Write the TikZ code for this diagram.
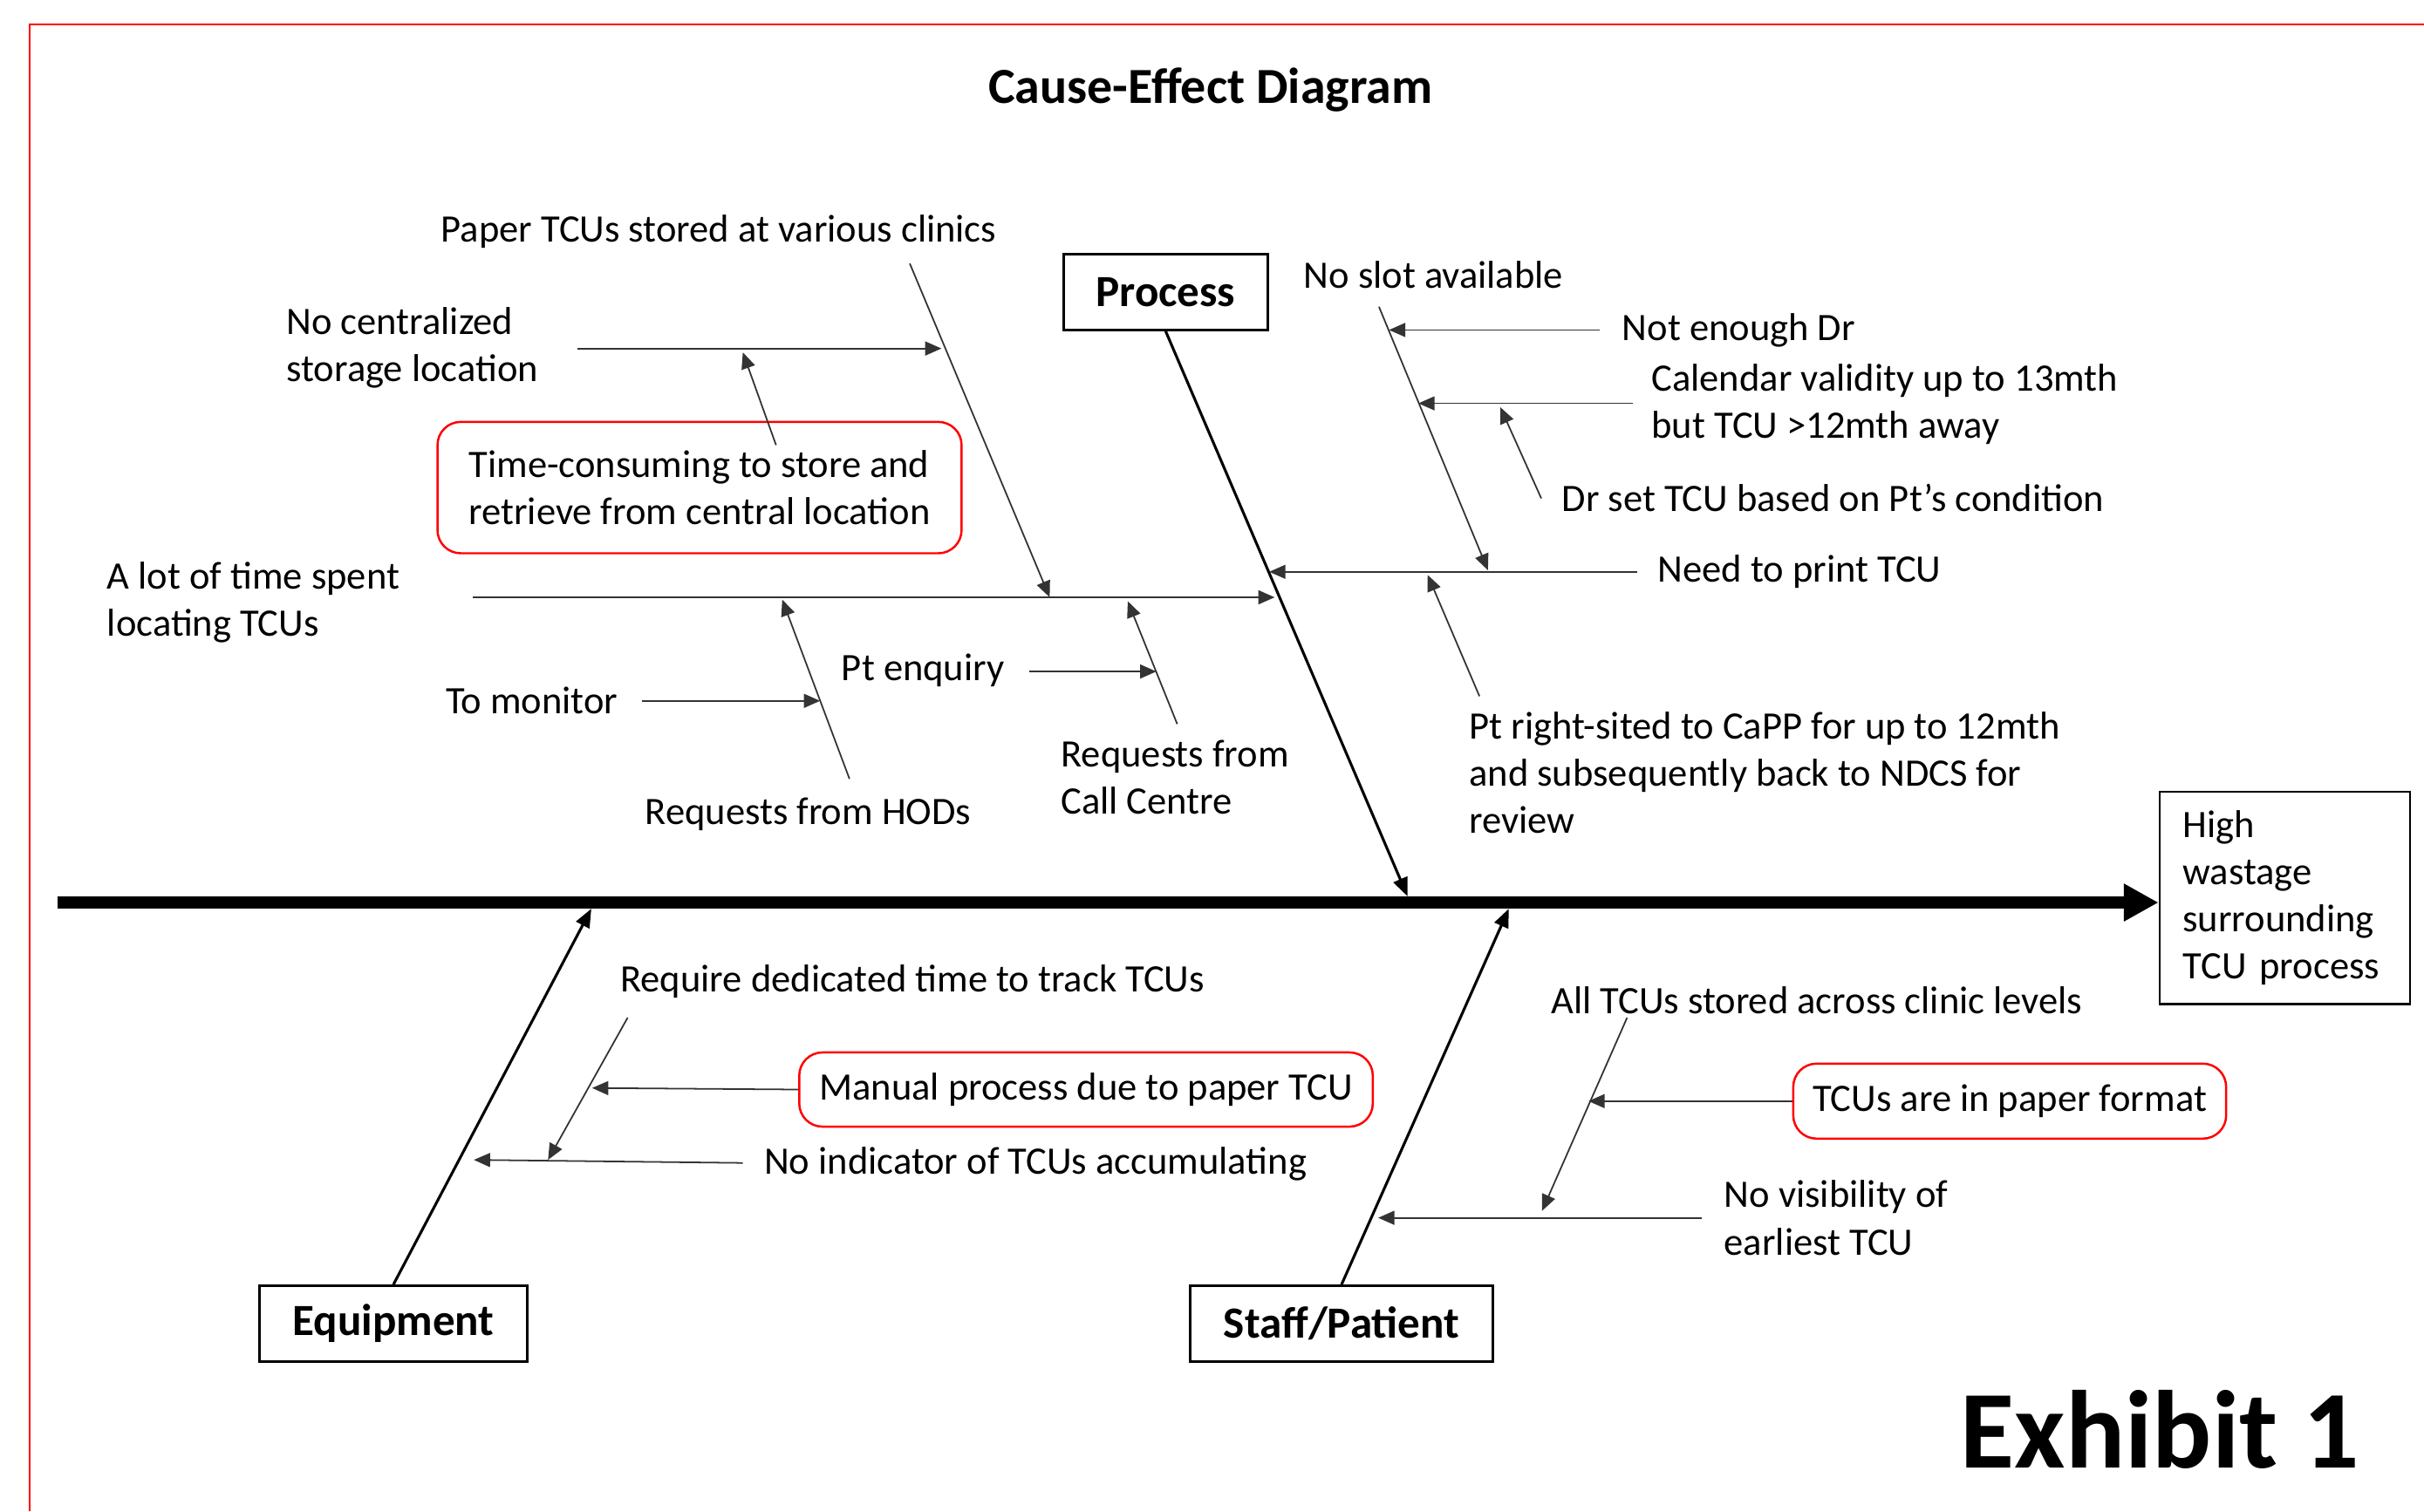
\documentclass[tikz,border=0pt]{standalone}
\usepackage{fontspec}
\setmainfont{Carlito}
\usepackage{tikz}
\usetikzlibrary{arrows.meta}
\definecolor{ink}{HTML}{000000}
\definecolor{twiggray}{HTML}{333333}
\definecolor{redline}{HTML}{FF0000}
\newcommand\labfont{\fontsize{14.3}{17.4}\selectfont}
\newcommand\catfont{\fontsize{16.4}{19}\selectfont\bfseries}
\newcommand\ttlfont{\fontsize{18.6}{22}\selectfont\bfseries}
\newcommand\exfont{\fontsize{40.8}{45}\selectfont\bfseries}
\tikzset{
  border/.style={draw=redline, line width=0.25mm},
  spine/.style={draw=ink, line width=1.5mm, -{Triangle[length=4.5mm,width=4.6mm]}},
  bone/.style={draw=ink, line width=0.35mm, -{Triangle[length=2.4mm,width=1.9mm]}},
  twig/.style={draw=twiggray, line width=0.2mm, -{Triangle[length=2.1mm,width=1.8mm]}},
  catbox/.style={draw=ink, line width=0.3mm, font=\catfont, minimum height=9.8mm, inner sep=0pt},
  causebox/.style={draw=redline, line width=0.28mm, rounded corners=3mm, font=\labfont, align=left, inner sep=0pt},
  lab/.style={text=ink, font=\labfont, align=left, inner sep=0pt, anchor=west},
}

\begin{document}
\begin{tikzpicture}[x=0.2mm,y=-0.2mm]
  \useasboundingbox (0,0) rectangle (1568,978);
  \draw[border] (1568,16) -- (19,16) -- (19,978);

  \node[font=\ttlfont] (ttl) at (783,58) {Cause-Effect Diagram};
  \node[font=\exfont, anchor=west, inner sep=0pt] (exh) at (1268,925) {Exhibit 1};

  \node[catbox, minimum width=26.4mm] (proc) at (754,189) {Process};
  \node[catbox, minimum width=34.7mm] (equip) at (254.5,856.4) {Equipment};
  \node[catbox, minimum width=39.1mm] (staff) at (867.8,856.4) {Staff/Patient};
  \node[draw=ink, line width=0.3mm, font=\labfont, align=left, text width=26.4mm,
        inner xsep=3mm, minimum height=27.5mm] (eff) at (1478,581)
        {High\\wastage\\surrounding\\TCU process};

  \coordinate (spS) at (37,584);
  \coordinate (pB) at (910.5,580);
  \coordinate (eB) at (382.5,588);
  \coordinate (sB) at (976,588);

  \draw[spine] (spS) -- (spS -| eff.west);
  \draw[bone] (proc.south) -- (pB);
  \draw[bone] (equip.north) -- (eB);
  \draw[bone] (staff.north) -- (sB);

  \node[lab] (paper) at (285,150) {Paper TCUs stored at various clinics};
  \node[lab] (nocent) at (185,225) {No centralized\\storage location};
  \node[causebox, minimum width=67.8mm, minimum height=17mm] (tcons) at (452.5,315.5)
        {Time-consuming to store and\\retrieve from central location};
  \node[lab] (alot) at (69,390) {A lot of time spent\\locating TCUs};
  \node[lab] (tomon) at (288,453) {To monitor};
  \node[lab] (hods) at (417,527) {Requests from HODs};
  \node[lab] (ptenq) at (544,434) {Pt enquiry};
  \node[lab] (callc) at (686,503) {Requests from\\Call Centre};

  \node[lab] (noslot) at (843,178) {No slot available};
  \node[lab] (notdr) at (1049,213.5) {Not enough Dr};
  \node[lab] (calval) at (1068,261.5) {Calendar validity up to 13mth\\but TCU >12mth away};
  \node[lab] (drset) at (1010,322) {Dr set TCU based on Pt’s condition};
  \node[lab] (needpr) at (1072,370) {Need to print TCU};
  \node[lab] (ptright) at (950,500) {Pt right-sited to CaPP for up to 12mth\\and subsequently back to NDCS for\\review};

  \node[lab] (reqded) at (401,635) {Require dedicated time to track TCUs};
  \node[causebox, minimum width=74.2mm, minimum height=9.6mm] (manual) at (702.5,705)
        {Manual process due to paper TCU};
  \node[lab] (noind) at (494,753) {No indicator of TCUs accumulating};

  \node[lab] (alltcu) at (1003,647) {All TCUs stored across clinic levels};
  \node[causebox, minimum width=56mm, minimum height=9.7mm] (pfmt) at (1300,712.5)
        {TCUs are in paper format};
  \node[lab] (novis) at (1115,788) {No visibility of\\earliest TCU};

  \coordinate (a1) at (306,386.5);
  \coordinate (a2) at (824.5,386.5);
  \coordinate (pp1) at (588.5,170.5);
  \coordinate (pp2) at (679,386.5);
  \coordinate (nc1) at (373.5,225.5);
  \coordinate (nc2) at (609,225.5);
  \coordinate (tc1) at (502,288);
  \coordinate (tc2) at (480.5,228);
  \coordinate (tm1) at (415,453.5);
  \coordinate (tm2) at (530.5,453.5);
  \coordinate (hd1) at (549.5,504);
  \coordinate (hd2) at (506,388);
  \coordinate (pe1) at (666,434.5);
  \coordinate (pe2) at (748,434.5);
  \coordinate (cc1) at (761.5,468.5);
  \coordinate (cc2) at (729.5,389);

  \coordinate (np1) at (1059,370);
  \coordinate (np2) at (821,370);
  \coordinate (ns1) at (892,198.5);
  \coordinate (ns2) at (962.5,369);
  \coordinate (nd1) at (1035,213.5);
  \coordinate (nd2) at (898.5,213.5);
  \coordinate (cv1) at (1056,261);
  \coordinate (cv2) at (917.5,261);
  \coordinate (ds1) at (997,322.5);
  \coordinate (ds2) at (970.5,263.5);
  \coordinate (pr1) at (957,450.5);
  \coordinate (pr2) at (923.5,372);

  \coordinate (rq1) at (406,658.5);
  \coordinate (rq2) at (354.5,750.5);
  \coordinate (mp2) at (383,704);
  \coordinate (ni1) at (480.5,752.5);
  \coordinate (ni2) at (306.5,750.5);

  \coordinate (at1) at (1052.5,658.5);
  \coordinate (at2) at (997.5,783.5);
  \coordinate (pf2) at (1027.5,712.5);
  \coordinate (nv1) at (1101,788);
  \coordinate (nv2) at (891.5,788);

  \draw[twig] (a1) -- (a2);
  \draw[twig] (pp1) -- (pp2);
  \draw[twig] (nc1) -- (nc2);
  \draw[twig] (tc1) -- (tc2);
  \draw[twig] (tm1) -- (tm2);
  \draw[twig] (hd1) -- (hd2);
  \draw[twig] (pe1) -- (pe2);
  \draw[twig] (cc1) -- (cc2);

  \draw[twig] (np1) -- (np2);
  \draw[twig] (ns1) -- (ns2);
  \draw[twig] (nd1) -- (nd2);
  \draw[twig] (cv1) -- (cv2);
  \draw[twig] (ds1) -- (ds2);
  \draw[twig] (pr1) -- (pr2);

  \draw[twig] (rq1) -- (rq2);
  \draw[twig] (manual.west) -- (mp2);
  \draw[twig] (ni1) -- (ni2);

  \draw[twig] (at1) -- (at2);
  \draw[twig] (pfmt.west) -- (pf2);
  \draw[twig] (nv1) -- (nv2);
\end{tikzpicture}
\end{document}
